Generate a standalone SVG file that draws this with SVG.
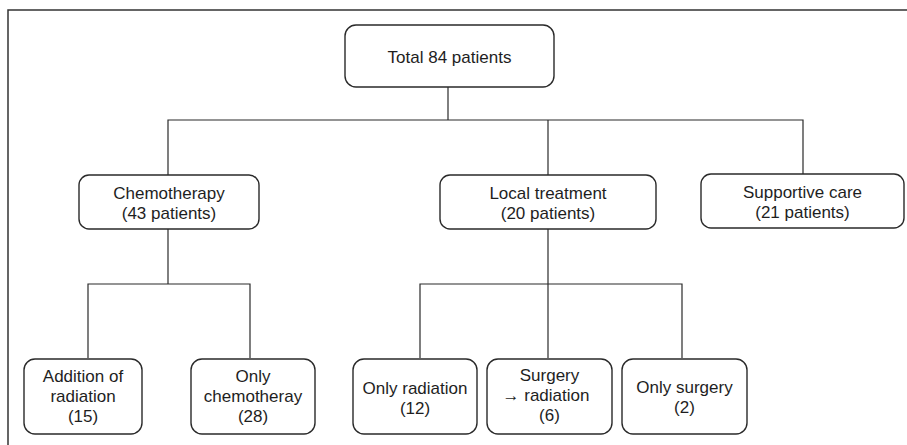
<svg xmlns="http://www.w3.org/2000/svg" width="907" height="445" viewBox="0 0 907 445">
<style>
.box{fill:#fff;stroke:#2a2a2a;stroke-width:1.4}
.ln{fill:none;stroke:#2a2a2a;stroke-width:1.2}
.frame{fill:none;stroke:#333;stroke-width:1.5}
text{font-family:"Liberation Sans",Arial,sans-serif;font-size:17px;fill:#1e1e1e;text-anchor:middle}
</style>
<rect width="907" height="445" fill="#fff"/>
<path class="frame" d="M8,445 V10 H907"/>
<g id="connectors">
<path class="ln" d="M448,87 V120"/>
<path class="ln" d="M168,175 V120 H803 V174"/>
<path class="ln" d="M548,120 V175"/>
<path class="ln" d="M168,229 V284"/>
<path class="ln" d="M88,358 V284 H250 V358"/>
<path class="ln" d="M548,229 V358"/>
<path class="ln" d="M420,358 V284 H682 V358"/>
</g>
<g id="total">
<rect class="box" x="345" y="25" width="209" height="62" rx="11"/>
<text x="449.5" y="63">Total 84 patients</text>
</g>
<g id="chemo">
<rect class="box" x="79" y="175" width="180" height="54" rx="10"/>
<text x="169" y="199">Chemotherapy</text>
<text x="169" y="219">(43 patients)</text>
</g>
<g id="local">
<rect class="box" x="440" y="175" width="216" height="54" rx="10"/>
<text x="548" y="199">Local treatment</text>
<text x="548" y="219">(20 patients)</text>
</g>
<g id="supportive">
<rect class="box" x="701" y="174" width="203" height="54" rx="10"/>
<text x="802.5" y="198">Supportive care</text>
<text x="802.5" y="218">(21 patients)</text>
</g>
<g id="addition">
<rect class="box" x="24" y="359" width="118" height="75" rx="11"/>
<text x="83" y="382">Addition of</text>
<text x="83" y="402">radiation</text>
<text x="83" y="422">(15)</text>
</g>
<g id="onlychemo">
<rect class="box" x="191" y="359" width="124" height="75" rx="11"/>
<text x="253" y="382">Only</text>
<text x="253" y="402">chemotheray</text>
<text x="253" y="422">(28)</text>
</g>
<g id="onlyradiation">
<rect class="box" x="353" y="359" width="124" height="75" rx="11"/>
<text x="415" y="394">Only radiation</text>
<text x="415" y="414">(12)</text>
</g>
<g id="surgeryradiation">
<rect class="box" x="487" y="359" width="125" height="75" rx="11"/>
<text x="549.5" y="381">Surgery</text>
<text x="546" y="401">→ radiation</text>
<text x="549.5" y="421">(6)</text>
</g>
<g id="onlysurgery">
<rect class="box" x="622" y="359" width="125" height="75" rx="11"/>
<text x="684.5" y="393">Only surgery</text>
<text x="684.5" y="413">(2)</text>
</g>
</svg>
